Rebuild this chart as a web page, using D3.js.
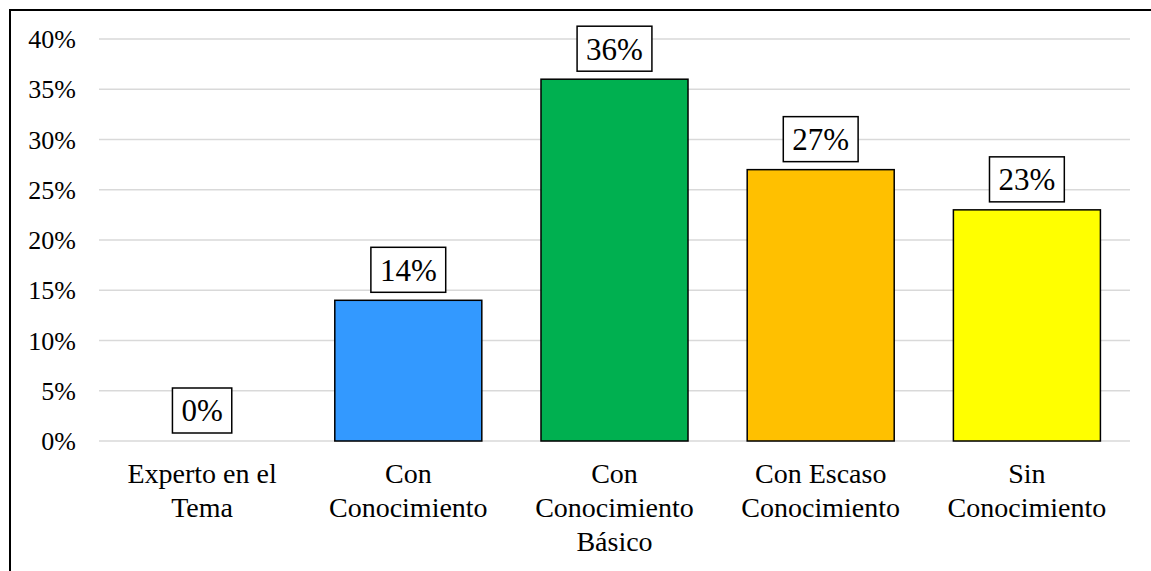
<!DOCTYPE html>
<html><head><meta charset="utf-8">
<script src="https://cdn.jsdelivr.net/npm/d3@7"></script>
<style>
html,body{margin:0;padding:0;background:#fff;}
svg{display:block;}
</style></head>
<body>
<svg id="chart" width="1151" height="571"></svg>
<script>
const categories = [["Experto en el","Tema"],["Con","Conocimiento"],["Con","Conocimiento","Básico"],["Con Escaso","Conocimiento"],["Sin","Conocimiento"]];
const values = [0, 14, 36, 27, 23];
const colors = ["#3399FF", "#3399FF", "#00B050", "#FFC000", "#FFFF00"];
const yTicks = [0, 5, 10, 15, 20, 25, 30, 35, 40];

(function(){
const FONT = "'Liberation Serif','Times New Roman',serif";
const svg = d3.select("#chart");
const W = 1151, H = 571;
const pLeft = 99, pRight = 1130, pTop = 39, pBottom = 441;

svg.append("rect").attr("x", 10).attr("y", 10).attr("width", W + 10).attr("height", H + 10)
  .attr("fill", "none").attr("stroke", "#000").attr("stroke-width", 2);

const x = d3.scaleBand().domain(d3.range(categories.length)).range([pLeft, pRight]).paddingInner(0.287).paddingOuter(0.1435);
const y = d3.scaleLinear().domain([0, 40]).range([pBottom, pTop]);

svg.append("g").selectAll("line").data(yTicks).join("line")
  .attr("x1", pLeft).attr("x2", pRight)
  .attr("y1", d => y(d)).attr("y2", d => y(d))
  .attr("stroke", "#d9d9d9").attr("stroke-width", 1.5);

svg.append("g").selectAll("text").data(yTicks).join("text")
  .attr("x", 76).attr("y", d => y(d)).attr("dy", "0.35em")
  .attr("text-anchor", "end").attr("font-size", 26).attr("font-family", FONT).attr("fill", "#000")
  .text(d => d + "%");

const data = values.map((v, i) => ({v, i}));
svg.append("g").selectAll("rect").data(data.filter(d => d.v > 0)).join("rect")
  .attr("x", d => x(d.i))
  .attr("y", d => y(d.v))
  .attr("width", x.bandwidth())
  .attr("height", d => y(0) - y(d.v))
  .attr("fill", d => colors[d.i])
  .attr("stroke", "#000").attr("stroke-width", 1.5);

const lab = svg.append("g");
data.forEach(d => {
  const cx = x(d.i) + x.bandwidth() / 2;
  const by = y(d.v) - 8;
  const t = lab.append("text").attr("x", cx).attr("y", by - 22.5).attr("dy", "0.35em")
    .attr("text-anchor", "middle").attr("font-size", 31).attr("font-family", FONT).attr("fill", "#000")
    .text(d.v + "%");
  const bb = t.node().getBBox();
  const bw = bb.width + 18, bh = 45;
  lab.insert("rect", "text").attr("x", cx - bw / 2).attr("y", by - bh)
    .attr("width", bw).attr("height", bh)
    .attr("fill", "#fff").attr("stroke", "#000").attr("stroke-width", 1.5);
});

const cg = svg.append("g");
categories.forEach((lines, i) => {
  const cx = x(i) + x.bandwidth() / 2;
  const t = cg.append("text").attr("text-anchor", "middle").attr("font-size", 28).attr("font-family", FONT).attr("fill", "#000");
  lines.forEach((ln, j) => {
    t.append("tspan").attr("x", cx).attr("y", 483 + j * 34).text(ln);
  });
});
})();
</script>
</body></html>
